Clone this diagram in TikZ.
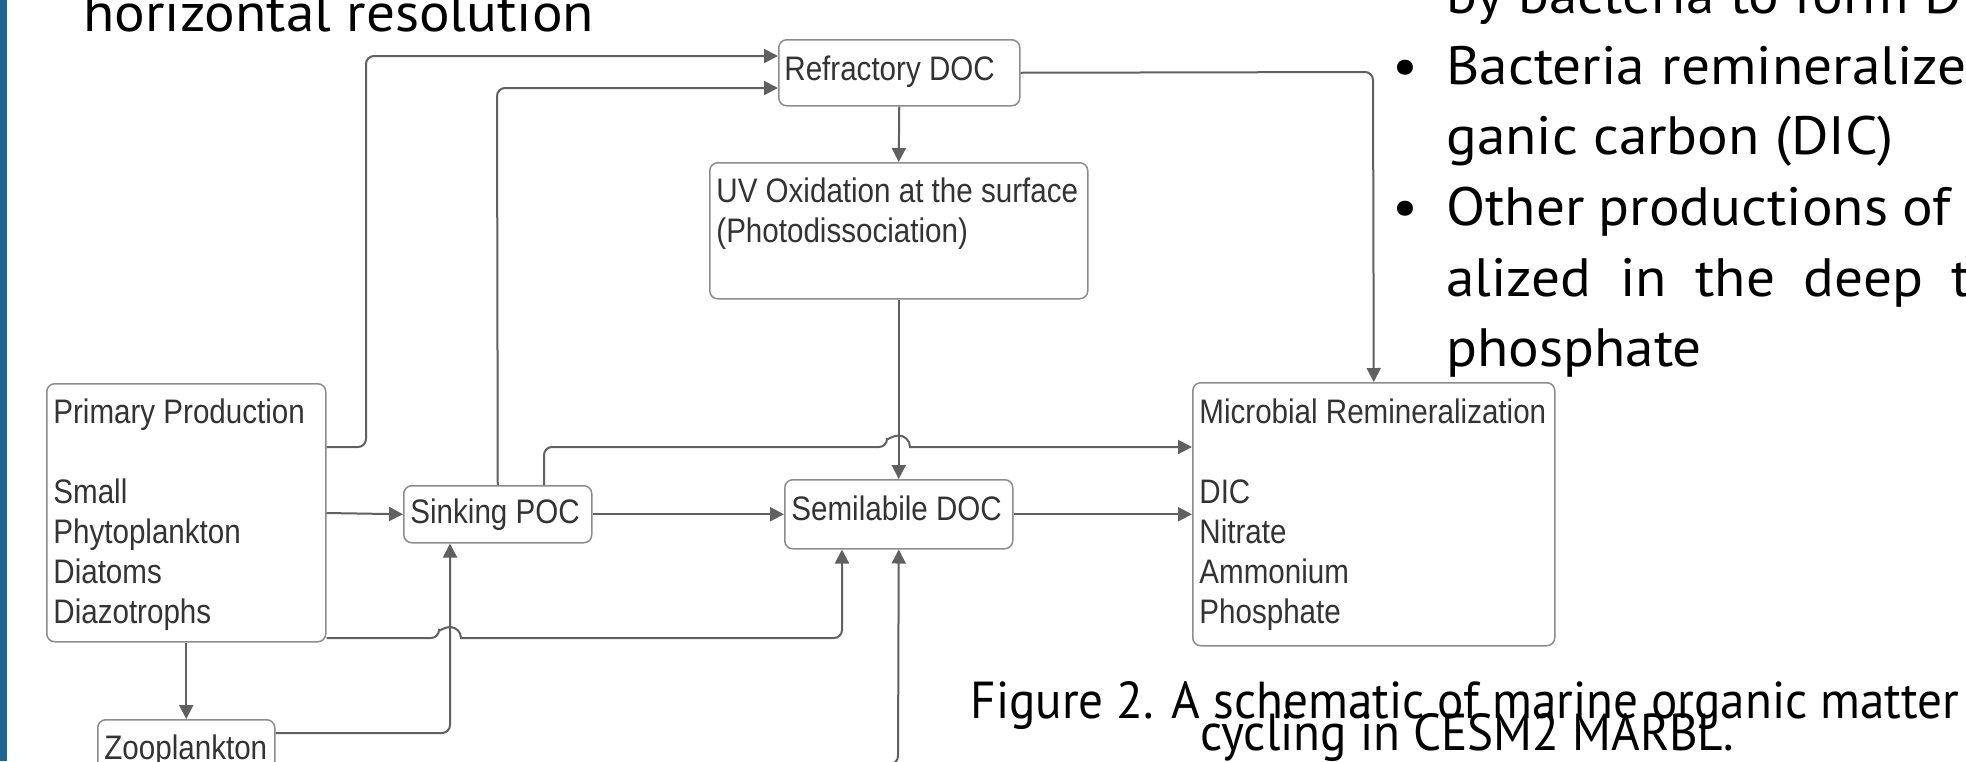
\documentclass[tikz,border=0pt]{standalone}
\usepackage{fontspec}
\setmainfont{Liberation Sans}
\newfontfamily\diafont[FakeStretch=0.87]{Liberation Sans}
\newfontfamily\posterfont[FakeStretch=1.06]{PT Sans}
\newfontfamily\capfont[FakeStretch=0.945]{PT Sans}
\usetikzlibrary{arrows.meta}
\definecolor{barblue}{HTML}{1F6592}
\definecolor{linegray}{HTML}{606060}
\definecolor{boxgray}{HTML}{8C8C8C}
\definecolor{txtgray}{HTML}{333333}
\tikzset{
  box/.style={draw=boxgray, line width=0.75pt, rounded corners=4pt, inner sep=0pt, anchor=north west, fill=white},
  conn/.style={draw=linegray, line width=1pt, rounded corners=4pt, -{Triangle[length=7pt,width=7pt]}},
  dtext/.style={font=\diafont\fontsize{17}{20}\selectfont, text=txtgray, inner sep=0pt, anchor=base west},
  ptext/.style={font=\posterfont\fontsize{27}{32}\selectfont, text=black, inner sep=0pt, anchor=base west},
  ctext/.style={font=\capfont\fontsize{26}{30}\selectfont, text=black, inner sep=0pt, anchor=base},
}
\begin{document}
\begin{tikzpicture}[x=0.5pt,y=-0.5pt]
\clip (0,0) rectangle (1966,761);
\fill[white] (0,0) rectangle (1966,761);
\fill[barblue] (0,0) rectangle (7,761);

% helper coordinates
\coordinate (h56) at (0,56);
\coordinate (h88) at (0,88);
\coordinate (h447) at (0,447);
\coordinate (h513) at (0,513);
\coordinate (h638) at (0,638);
\coordinate (h733) at (0,733);
\coordinate (h764) at (0,764);
\coordinate (v544) at (544,0);
\coordinate (v842) at (842,0);
\coordinate (v450) at (450,0);

% boxes
\node[box, minimum width=139.5pt, minimum height=129pt] (pp) at (46,383) {};
\node[box, minimum width=94pt, minimum height=28.5pt] (sp) at (403,485) {};
\node[box, minimum width=120.5pt, minimum height=33pt] (rd) at (778,39) {};
\node[box, minimum width=189pt, minimum height=68pt] (uv) at (709,162) {};
\node[box, minimum width=114pt, minimum height=34.5pt] (sd) at (784,479) {};
\node[box, minimum width=181pt, minimum height=131.5pt] (mr) at (1192,382) {};
\node[box, minimum width=88.5pt, minimum height=40.5pt] (zp) at (97,719) {};

% box texts
\node[dtext] (pp1) at (53,423) {Primary Production};
\node[dtext] (pp2) at (53,503) {Small};
\node[dtext] (pp3) at (53,543) {Phytoplankton};
\node[dtext] (pp4) at (53,583) {Diatoms};
\node[dtext] (pp5) at (53,623) {Diazotrophs};
\node[dtext] (spt) at (410,523) {Sinking POC};
\node[dtext] (rdt) at (784,80) {Refractory DOC};
\node[dtext] (uv1) at (716,202) {UV Oxidation at the surface};
\node[dtext] (uv2) at (716,242) {(Photodissociation)};
\node[dtext] (sdt) at (791,520) {Semilabile DOC};
\node[dtext] (mr1) at (1199,423) {Microbial Remineralization};
\node[dtext] (mr2) at (1199,503) {DIC};
\node[dtext] (mr3) at (1199,543) {Nitrate};
\node[dtext] (mr4) at (1199,583) {Ammonium};
\node[dtext] (mr5) at (1199,623) {Phosphate};
\node[dtext] (zpt) at (104,759) {Zooplankton};

% connectors
\draw[conn] (pp.east |- h447) -- (366,447) -- (366,56) -- (rd.west |- h56);
\draw[conn] (sp.north) -- (497,88) -- (rd.west |- h88);
\draw[conn] (rd.south) -- (uv.north);
\draw[conn] (rd.east) -- (1373,72) -- (mr.north);
\draw[conn] (uv.south) -- (sd.north);
\draw[conn] (sp.north -| v544) -- (544,447) -- (887,447) [sharp corners] arc[start angle=180, end angle=360, radius=11.5] -- (mr.west |- h447);
\draw[conn] (pp.east |- h513) -- (sp.west);
\draw[conn] (sp.east) -- (sd.west);
\draw[conn] (sd.east) -- (mr.west);
\draw[conn] (pp.east |- h638) -- (439,638) [sharp corners] arc[start angle=180, end angle=360, radius=11] [rounded corners=4pt] -- (842,638) -- (sd.south -| v842);
\draw[conn] (pp.south) -- (zp.north);
\draw[conn] (zp.east |- h733) -- (450,733) -- (sp.south -| v450);
\draw[conn] (zp.east |- h764) -- (898,764) -- (sd.south);

% poster text
\node[ptext] (hr) at (83,31) {horizontal resolution};
\node[ptext] (t1) at (1446,13) {by bacteria to form D};
\node[ptext, anchor=base] (b1) at (1405,84) {•};
\node[ptext] (t2) at (1446,84) {\hbox to 260pt{Bacteria\hfill remineralize}};
\node[ptext] (t3) at (1446,154) {ganic carbon (DIC)};
\node[ptext, anchor=base] (b2) at (1405,225) {•};
\node[ptext] (t4) at (1446,225) {\makebox[252pt][s]{Other productions of}};
\node[ptext] (t5) at (1446,296) {\makebox[262.5pt][s]{alized in the deep t}};
\node[ptext] (t6) at (1446,366) {phosphate};
\node[ctext] (c1) at (1465,718) {Figure 2. A schematic of marine organic matter};
\node[ctext] (c2) at (1467,750) {cycling in CESM2 MARBL.};
\end{tikzpicture}
\end{document}
